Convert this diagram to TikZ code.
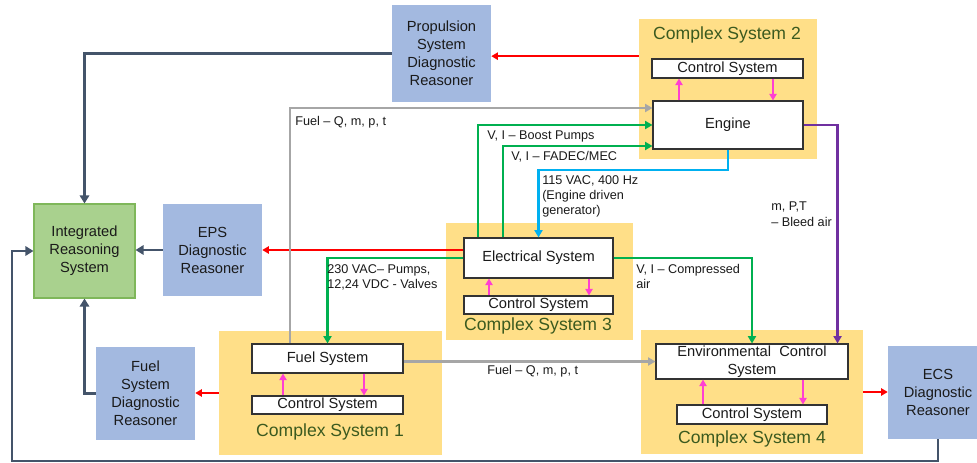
\documentclass[tikz,border=0pt]{standalone}
\usepackage{fontspec}
\setmainfont{Liberation Sans}
\usetikzlibrary{arrows.meta,calc}
\definecolor{drblue}{HTML}{A3B9E0}
\definecolor{csyellow}{HTML}{FFDF88}
\definecolor{irsgreen}{HTML}{A9D18E}
\definecolor{irsedge}{HTML}{7FB75A}
\definecolor{slate}{HTML}{44546A}
\definecolor{cred}{HTML}{FF0000}
\definecolor{cgreen}{HTML}{00B050}
\definecolor{ccyan}{HTML}{00B0F0}
\definecolor{cpurple}{HTML}{7030A0}
\definecolor{cgray}{HTML}{A6A6A6}
\definecolor{cmag}{HTML}{FF3FD2}
\definecolor{cstext}{HTML}{3B5A1F}
\definecolor{txt}{HTML}{1A1A1A}
\tikzset{
  sz/.style 2 args={inner sep=0pt, minimum width=#1*0.75pt, minimum height=#2*0.75pt},
  main/.style={font=\fontsize{11}{13.5}\selectfont, text=txt, align=center},
  drbox/.style={main, fill=drblue},
  yel/.style={fill=csyellow, inner sep=0pt},
  wbox/.style={main, fill=white, draw=black!80, line width=0.8pt},
  cslab/.style={font=\fontsize{13.2}{15}\selectfont, text=cstext},
  lab/.style={font=\fontsize{9.5}{11.5}\selectfont, text=txt, align=left, inner sep=0pt},
  fb/.style={draw=slate, line width=2.2pt, -{Triangle[length=6pt,width=7pt]}},
  redc/.style={draw=cred, line width=1.3pt, -{Triangle[length=5pt,width=5.5pt]}},
  grc/.style={draw=cgreen, line width=1.8pt, -{Triangle[length=5.5pt,width=6pt]}},
  gyc/.style={draw=cgray, line width=1.8pt, -{Triangle[length=5.5pt,width=6pt]}},
  cyc/.style={draw=ccyan, line width=1.8pt, -{Triangle[length=5.5pt,width=6pt]}},
  puc/.style={draw=cpurple, line width=1.8pt, -{Triangle[length=5.5pt,width=6pt]}},
  mgc/.style={draw=cmag, line width=1.6pt, -{Triangle[length=5pt,width=5.5pt]}}
}
\begin{document}
\begin{tikzpicture}[x=0.75pt,y=-0.75pt]
\useasboundingbox (0,0) rectangle (977,463);
\clip (0,0) rectangle (977,463);

% complex system backgrounds
\node[yel, sz={223}{124}] (cs1) at (330.5,393) {};
\node[yel, sz={178}{140}] (cs2) at (728,89) {};
\node[yel, sz={187}{117}] (cs3) at (539.5,281.5) {};
\node[yel, sz={222}{124}] (cs4) at (752,392) {};
\node[cslab] (cs1l) at (330,432) {Complex System 1};
\node[cslab] (cs2l) at (727,35) {Complex System 2};
\node[cslab] (cs3l) at (538,326) {Complex System 3};
\node[cslab] (cs4l) at (752,439) {Complex System 4};

% reasoners
\node[drbox, sz={99}{97}] (prop) at (441.5,53.5) {Propulsion\\System\\Diagnostic\\Reasoner};
\node[main, fill=irsgreen, draw=irsedge, line width=0.8pt, sz={101}{94}] (irs) at (84.5,251) {Integrated\\Reasoning\\System};
\node[drbox, sz={99}{92}] (eps) at (212.5,250) {EPS\\Diagnostic\\Reasoner};
\node[drbox, sz={99}{93}] (fdr) at (145.5,393.5) {Fuel\\System\\Diagnostic\\Reasoner};
\node[drbox, sz={100}{93}] (ecsdr) at (938,392.5) {ECS\\Diagnostic\\Reasoner};

% subsystem boxes
\node[wbox, sz={151}{29}] (fuel) at (327.5,358.5) {Fuel System};
\node[wbox, sz={151}{18}] (ctl1) at (327.5,405) {Control System};
\node[wbox, sz={151}{19}] (ctl2) at (727.5,68.5) {Control System};
\node[wbox, sz={150}{48}] (engine) at (728,125) {Engine};
\node[wbox, sz={149}{40}] (elec) at (538.5,258) {Electrical System};
\node[wbox, sz={149}{18}] (ctl3) at (538.5,305) {Control System};
\node[wbox, sz={192}{35}] (ecs) at (752,361.5) {Environmental\ \ Control\\System};
\node[wbox, sz={150}{19}] (ctl4) at (752,414.5) {Control System};

% helper coordinates
\coordinate (fbc) at (12,461);
\coordinate (g1) at (290,108);
\coordinate (b1) at (478,125);
\coordinate (f1) at (503,146);
\coordinate (c2) at (538.5,170);
\coordinate (ma1) at (283,0); \coordinate (mb1) at (364,0);
\coordinate (ma2) at (679,0); \coordinate (mb2) at (773,0);
\coordinate (ma3) at (489,0); \coordinate (mb3) at (589,0);
\coordinate (ma4) at (703,0); \coordinate (mb4) at (803,0);

% feedback to integrated reasoning system
\draw[fb] (prop.west) -| (irs.north);
\draw[fb] (eps.west) -- (eps.west -| irs.east);
\draw[fb] (fdr.west) -| (irs.south);
\draw[fb] (ecsdr.south) |- (fbc) |- (irs.west);

% red arrows
\draw[redc] (cs1.west) -- (cs1.west -| fdr.east);
\draw[redc] (eps.east -| elec.west) -- (eps.east);
\draw[redc] ([yshift=-2pt]prop.east -| cs2.west) -- ([yshift=-2pt]prop.east);
\draw[redc] (cs4.east) -- (cs4.east -| ecsdr.west);

% gray fuel lines
\draw[gyc] (g1 |- fuel.north) -- (g1) -- (g1 -| engine.west);
\draw[gyc] (fuel.east |- ecs.west) -- (ecs.west);
\node[lab, anchor=west] (l1) at (295,122) {Fuel -- Q, m, p, t};
\node[lab, anchor=west] (l8) at (487,371) {Fuel -- Q, m, p, t};

% green electrical lines
\draw[grc] (b1 |- elec.north) -- (b1) -- (b1 -| engine.west);
\draw[grc] (f1 |- elec.north) -- (f1) -- (f1 -| engine.west);
\draw[grc] (elec.west) -| (fuel.north);
\draw[grc] (elec.east) -| (ecs.north);
\node[lab, anchor=west] (l2) at (487,136) {V, I -- Boost Pumps};
\node[lab, anchor=west] (l3) at (511,157) {V, I -- FADEC/MEC};
\node[lab, anchor=north west] (l5) at (327,264) {230 VAC-- Pumps,\\12,24 VDC - Valves};
\node[lab, anchor=north west] (l6) at (636,264) {V, I -- Compressed\\air};

% cyan generator line
\draw[cyc] (engine.south) |- (c2) -- (elec.north);
\node[lab, anchor=north west] (l4) at (542,175) {115 VAC, 400 Hz\\(Engine driven\\generator)};

% purple bleed air
\draw[puc] (engine.east) -| ($(ecs.north east)+(-11,0)$);
\node[lab, anchor=north west] (l7) at (771,202) {m, P,T\\-- Bleed air};

% magenta control arrows
\draw[mgc] (ma1 |- ctl1.north) -- (ma1 |- fuel.south);
\draw[mgc] (mb1 |- fuel.south) -- (mb1 |- ctl1.north);
\draw[mgc] (ma2 |- engine.north) -- (ma2 |- ctl2.south);
\draw[mgc] (mb2 |- ctl2.south) -- (mb2 |- engine.north);
\draw[mgc] (ma3 |- ctl3.north) -- (ma3 |- elec.south);
\draw[mgc] (mb3 |- elec.south) -- (mb3 |- ctl3.north);
\draw[mgc] (ma4 |- ctl4.north) -- (ma4 |- ecs.south);
\draw[mgc] (mb4 |- ecs.south) -- (mb4 |- ctl4.north);
\end{tikzpicture}
\end{document}
